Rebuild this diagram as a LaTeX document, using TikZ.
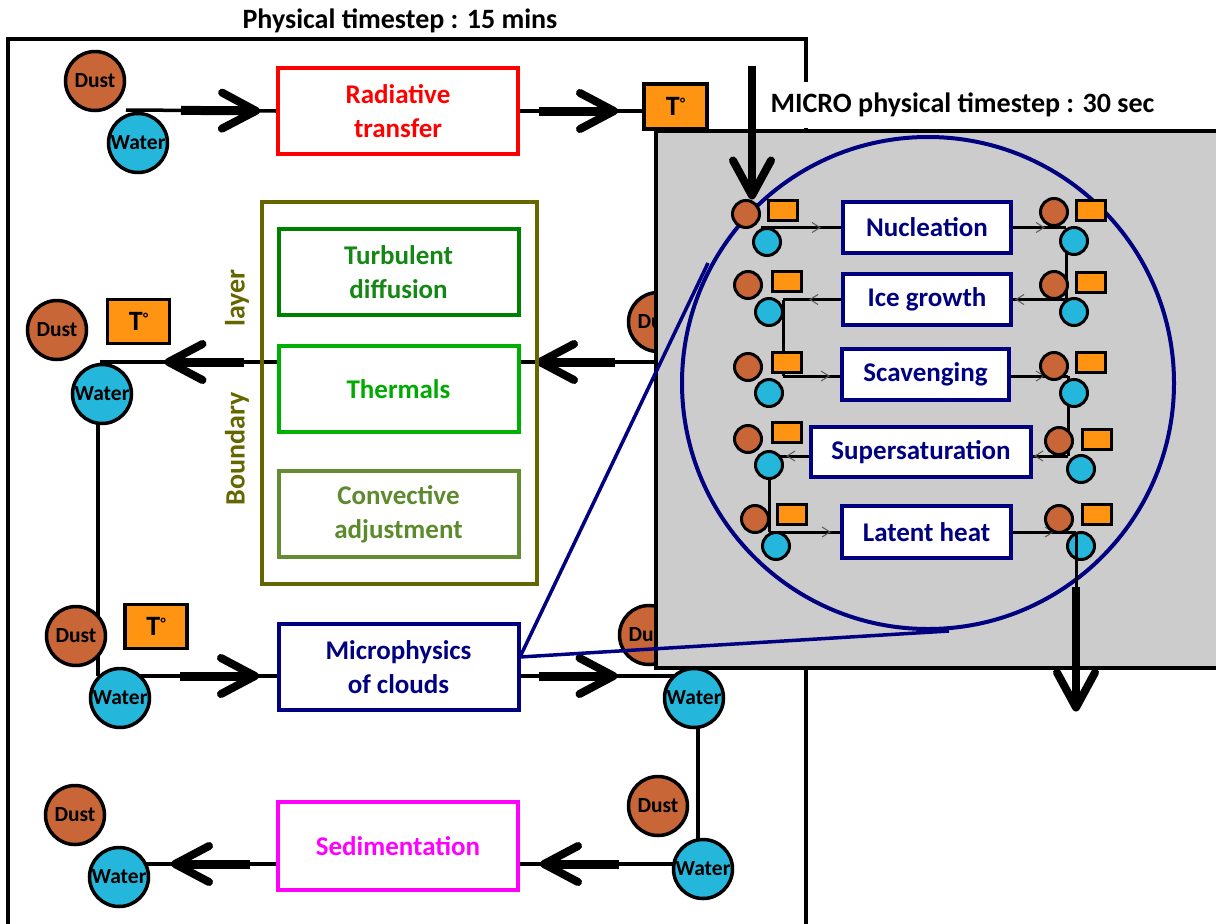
\documentclass[tikz,border=0pt]{standalone}
\usepackage{fontspec}
\setmainfont{Carlito}
\usetikzlibrary{decorations.markings,calc}
\definecolor{dustc}{RGB}{200,102,56}
\definecolor{waterc}{RGB}{36,183,219}
\definecolor{tempc}{RGB}{255,148,18}
\definecolor{navyc}{RGB}{0,0,128}
\definecolor{olivec}{RGB}{102,102,0}
\definecolor{turbc}{RGB}{0,128,0}
\definecolor{thermc}{RGB}{0,176,0}
\definecolor{convc}{RGB}{100,140,50}
\definecolor{redc}{RGB}{255,0,0}
\definecolor{magc}{RGB}{255,0,255}
\definecolor{greyc}{RGB}{204,204,204}
\newcommand\fsz[2]{\fontsize{#1}{#2}\selectfont}
\newcommand\tdeg{T\kern0.5pt\raisebox{7pt}{\fsz{15}{15}°}}
\pgfdeclarelayer{lA}\pgfdeclarelayer{lB}\pgfdeclarelayer{lC}\pgfdeclarelayer{lD}\pgfdeclarelayer{lE}
\pgfsetlayers{lA,lB,lC,lD,lE,main}
\tikzset{
  dustn/.style={circle,draw=black,line width=3.5pt,fill=dustc,minimum size=59pt,inner sep=0pt,font=\bfseries\fsz{21.5}{21.5}},
  watern/.style={dustn,fill=waterc},
  tbox/.style={draw=black,line width=3.5pt,fill=tempc,minimum width=62pt,minimum height=44pt,inner sep=0pt,font=\bfseries\fsz{28}{28}},
  proc/.style={draw=#1,text=#1,line width=4pt,fill=white,minimum width=240pt,minimum height=86pt,align=center,inner sep=0pt,font=\bfseries\fsz{27}{34}},
  sdust/.style={circle,draw=black,line width=3pt,fill=dustc,minimum size=27pt,inner sep=0pt},
  swater/.style={sdust,fill=waterc},
  stemp/.style={draw=black,line width=3pt,fill=tempc,minimum width=29pt,minimum height=20pt,inner sep=0pt},
  ibox/.style={draw=navyc,text=navyc,line width=4pt,fill=white,minimum width=168pt,minimum height=51pt,inner sep=0pt,font=\bfseries\fsz{27}{27}},
  mconn/.style={draw=black,line width=3.5pt},
  iconn/.style={draw=black,line width=3pt},
  bigarr/.style={postaction={decorate,decoration={markings,mark=at position #1 with {
     \draw[black,line width=9pt,line cap=butt] (-75pt,0pt) -- (-5pt,0pt);
     \draw[black,line width=8pt,line cap=round,line join=round] (-34pt,18pt) -- (0pt,0pt) -- (-34pt,-18pt);}}}},
  endarr/.style={line width=8pt,postaction={decorate,decoration={markings,mark=at position -0.5pt with {
     \draw[black,line width=8pt,line cap=round,line join=round] (-35pt,19pt) -- (0pt,0pt) -- (-35pt,-19pt);}}}},
  smarr/.style={postaction={decorate,decoration={markings,mark=at position #1 with {
     \draw[black!65,line width=1pt] (-8pt,5pt) -- (0pt,0pt) -- (-8pt,-5pt);}}}},
}
\begin{document}
\begin{tikzpicture}[x=1pt,y=-1pt]
\useasboundingbox (0,0) rectangle (1216,924);
\clip (0,0) rectangle (1216,924);

% ---------------- main diagram nodes ----------------
\begin{pgfonlayer}{lB}
\node[font=\bfseries\fsz{28}{28}] (title) at (400,21) {Physical timestep : 15 mins};
\draw[line width=3.5pt] (8,935) -- (8,39) -- (806,39) -- (806,935);

\node[dustn] (dust1) at (95,81) {Dust};
\node[watern] (water1) at (138,143) {Water};
\node[proc=redc] (rad) at (398,111) {Radiative\\transfer};

\node[draw=olivec,line width=4pt,minimum width=275pt,minimum height=382pt,inner sep=0pt] (bl) at (399,392.5) {};
\node[rotate=90,text=olivec,font=\bfseries\fsz{28}{28}] (blA) at (237,449) {Boundary};
\node[rotate=90,text=olivec,font=\bfseries\fsz{28}{28}] (blB) at (237,298) {layer};
\node[proc=turbc,text={rgb,255:red,20;green,135;blue,20}] (turb) at (398.5,272) {Turbulent\\diffusion};
\node[proc=thermc,text={rgb,255:red,0;green,170;blue,0}] (therm) at (398.5,389) {Thermals};
\node[proc=convc,text={rgb,255:red,92;green,138;blue,45}] (conv) at (398.5,514) {Convective\\adjustment};

\node[dustn] (dust2L) at (57,330) {Dust};
\node[tbox] (T2) at (138.5,321.5) {\tdeg};
\node[watern] (water2L) at (102,394) {Water};
\node[dustn] (dust2R) at (658,322) {Dust};

\node[dustn] (dust4L) at (76,636) {Dust};
\node[tbox] (T4) at (156,626.5) {\tdeg};
\node[watern] (water4L) at (120,698) {Water};
\node[proc=navyc] (micro) at (398.5,667) {Microphysics\\of clouds};
\node[dustn] (dust4R) at (649,635) {Dust};
\node[watern] (water4R) at (694,698) {Water};

\node[dustn] (dust5R) at (658,806) {Dust};
\node[watern] (water5R) at (703,869) {Water};
\node[proc=magc,minimum height=88pt] (sed) at (398,846) {Sedimentation};
\node[dustn] (dust5L) at (75,815) {Dust};
\node[watern] (water5L) at (119,877) {Water};
\end{pgfonlayer}

\coordinate (r1s) at (126,110);
\coordinate (tl) at (100,362);
\coordinate (tr) at (662,362);
\coordinate (m4) at (98,676);
\coordinate (sedy) at (0,864);

% ---------------- zoom panel ----------------
\begin{pgfonlayer}{lC}
\node[draw=black,line width=3.5pt,fill=greyc,minimum width=600pt,minimum height=537pt,inner sep=0pt,anchor=north west] (panel) at (654,129) {};
\node[circle,draw=navyc,line width=4pt,minimum size=492pt,inner sep=0pt] (zoomc) at (928,383) {};
\end{pgfonlayer}

\begin{pgfonlayer}{lE}
\node[ibox] (nuc) at (927,227.5) {Nucleation};
\node[ibox] (ice) at (927,299.5) {Ice growth};
\node[ibox,minimum width=167pt] (scav) at (925.5,374.5) {Scavenging};
\node[ibox,minimum width=220pt,minimum height=50pt] (sup) at (921,452) {Supersaturation};
\node[ibox,minimum width=169pt,minimum height=52pt] (lat) at (926.5,532) {Latent heat};

\node[sdust] (dL1) at (746,214) {};
\node[stemp] (tL1) at (783,210.5) {};
\node[swater] (wL1) at (767,242) {};
\node[sdust] (dR1) at (1054,212) {};
\node[stemp] (tR1) at (1090.5,210.5) {};
\node[swater] (wR1) at (1074,241) {};

\node[sdust] (dL2) at (748,285) {};
\node[stemp] (tL2) at (786.5,281.5) {};
\node[swater] (wL2) at (769,312) {};
\node[sdust] (dR2) at (1054,285) {};
\node[stemp] (tR2) at (1090.5,282) {};
\node[swater] (wR2) at (1074,312) {};

\node[sdust] (dL3) at (748,367) {};
\node[stemp] (tL3) at (786.5,362.5) {};
\node[swater] (wL3) at (769,393) {};
\node[sdust] (dR3) at (1054,366) {};
\node[stemp] (tR3) at (1090.5,362.5) {};
\node[swater] (wR3) at (1074,393) {};

\node[sdust] (dL4) at (748,439) {};
\node[stemp] (tL4) at (786.5,432.5) {};
\node[swater] (wL4) at (769,465) {};
\node[sdust] (dR4) at (1059,441) {};
\node[stemp] (tR4) at (1096.5,439) {};
\node[swater] (wR4) at (1081,469) {};

\node[sdust] (dL5) at (755,519) {};
\node[stemp] (tL5) at (792,514.5) {};
\node[swater] (wL5) at (776,546) {};
\node[sdust] (dR5) at (1059,519) {};
\node[stemp] (tR5) at (1096.5,514.5) {};
\node[swater] (wR5) at (1081,546) {};
\end{pgfonlayer}

\coordinate (c1a) at (761,227.5);
\coordinate (c1b) at (1066,227.5);
\coordinate (c2b) at (1066,299.5);
\coordinate (c2a) at (783,299.5);
\coordinate (c3a) at (783,376);
\coordinate (c3b) at (1068,376);
\coordinate (c4b) at (1068,456);
\coordinate (c4a) at (769,456);
\coordinate (c5a) at (769,532);
\coordinate (c5b) at (1076,532);
\coordinate (c6) at (1076,587);
\coordinate (c7) at (1076,708);

% ---------------- top labels and arrows ----------------
\node[fill=white,minimum width=411pt,minimum height=46pt,inner sep=0pt,font=\bfseries\fsz{28}{28}] (microlab) at (962.5,105) {MICRO physical timestep : 30 sec};
\node[tbox,minimum width=63pt,minimum height=45pt] (T1) at (675.5,106.5) {\tdeg};
\coordinate (inTop) at (752,66);
\coordinate (inTip) at (752,196);
\draw[endarr] (inTop) -- (inTip);

% ---------------- main connectors ----------------
\begin{pgfonlayer}{lA}
\draw[mconn,bigarr=130pt] (r1s) -- (rad.west);
\draw[mconn,bigarr=94pt] (rad.east) -- (rad.east -| T1.west);
\draw[mconn,bigarr=122pt] (tr) -- (therm.east |- tr);
\draw[mconn,bigarr=108pt] (therm.west |- tl) -- (tl);
\draw[mconn] (water2L.center -| m4) -- (m4);
\draw[mconn,bigarr=157pt] (m4) -- (micro.west |- m4);
\draw[mconn,bigarr=93pt] (micro.east |- m4) -- (water4R.center |- m4);
\draw[mconn] ($(water4R.center)+(4,0)$) -- ($(water5R.center)+(-5,0)$);
\draw[mconn,bigarr=159pt] (water5R.center |- sedy) -- (sed.east |- sedy);
\draw[mconn,bigarr=101pt] (sed.west |- sedy) -- (water5L.center |- sedy);
\end{pgfonlayer}

% ---------------- inner connectors ----------------
\begin{pgfonlayer}{lD}
\draw[iconn,smarr=59pt] (c1a) -- (nuc.west);
\draw[iconn,smarr=31pt] (nuc.east) -- (c1b);
\draw[iconn] (c1b) -- (c2b);
\draw[iconn,smarr=50pt] (c2b) -- (ice.east);
\draw[iconn,smarr=31pt] (ice.west) -- (c2a);
\draw[iconn] (c2a) -- (c3a);
\draw[iconn,smarr=46pt] (c3a) -- (scav.west |- c3a);
\draw[iconn,smarr=33pt] (scav.east |- c3b) -- (c3b);
\draw[iconn] (c3b) -- (c4b);
\draw[iconn,smarr=33pt] (c4b) -- (sup.east |- c4b);
\draw[iconn,smarr=22pt] (sup.west |- c4a) -- (c4a);
\draw[iconn] (c4a) -- (c5a);
\draw[iconn,smarr=61pt] (c5a) -- (lat.west);
\draw[iconn,smarr=40pt] (lat.east) -- (c5b);
\end{pgfonlayer}

\draw[iconn] (c5b) -- (c6);
\draw[endarr] (c6) -- (c7);

% ---------------- zoom lines ----------------
\coordinate (zl) at (520,657);
\coordinate (zu) at (708,263);
\coordinate (zd) at (949,631);
\draw[navyc,line width=3.5pt] (zu) -- (zl) -- (zd);
\end{tikzpicture}
\end{document}
